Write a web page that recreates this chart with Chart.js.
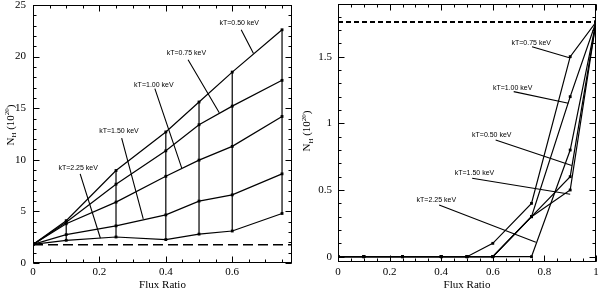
<!DOCTYPE html>
<html>
<head>
<meta charset="utf-8">
<script src="https://cdn.jsdelivr.net/npm/chart.js@4.4.0/dist/chart.umd.min.js"></script>
<style>
html, body { margin: 0; padding: 0; background: #fff; }
#wrap { position: relative; width: 600px; height: 290px; }
.pane { position: absolute; top: 0; width: 300px; height: 290px; }
</style>
</head>
<body>
<div id="wrap">
  <div class="pane" style="left:0"><canvas id="left" width="300" height="290"></canvas></div>
  <div class="pane" style="left:300px"><canvas id="right" width="300" height="290"></canvas></div>
</div>
<script>
"use strict";

const SERIF = '"Liberation Serif", "DejaVu Serif", serif';
const SANS = '"Liberation Sans", Arial, sans-serif';

// left panel: N_H against flux ratio, one list per temperature
const fluxLeft = [0, 0.1, 0.25, 0.4, 0.5, 0.6, 0.75];
const nhLeft050 = [1.8, 4.1, 8.96, 12.7, 15.6, 18.5, 22.6];
const nhLeft075 = [1.8, 3.95, 7.64, 10.87, 13.4, 15.2, 17.7];
const nhLeft100 = [1.8, 3.8, 5.9, 8.4, 9.97, 11.3, 14.2];
const nhLeft150 = [1.8, 2.75, 3.6, 4.66, 6.0, 6.6, 8.64];
const nhLeft225 = [1.8, 2.2, 2.52, 2.27, 2.8, 3.1, 4.8];
const galNHLeft = 1.76;

// right panel
const fluxRight = [0, 0.1, 0.25, 0.4, 0.5, 0.6, 0.75, 0.9, 1];
const nhRight050 = [0, 0, 0, 0, 0, 0, 0.3, 0.6, 1.76];
const nhRight075 = [0, 0, 0, 0, 0, 0.1, 0.4, 1.5, 1.76];
const nhRight100 = [0, 0, 0, 0, 0, 0, 0.3, 1.2, 1.76];
const nhRight150 = [0, 0, 0, 0, 0, 0, 0.3, 0.5, 1.76];
const nhRight225 = [0, 0, 0, 0, 0, 0, 0, 0.8, 1.76];
const galNHRight = 1.76;

// annotation labels (order: 0.50, 0.75, 1.00, 1.50, 2.25), positions in data units
const kTLabels = ["kT=0.50 keV", "kT=0.75 keV", "kT=1.00 keV", "kT=1.50 keV", "kT=2.25 keV"];
const labelPosLeft = [[0.621, 23.25], [0.462, 20.35], [0.364, 17.25], [0.259, 12.79], [0.136, 9.2]];
const pointerFromLeft = [[0.627, 22.6], [0.467, 19.7], [0.367, 16.9], [0.267, 12.1], [0.142, 8.64]];
const pointerToLeft = [[0.664, 20.3], [0.561, 14.56], [0.448, 9.2], [0.332, 4.27], [0.203, 2.4]];
const labelPosRight = [[0.596, 0.913], [0.749, 1.603], [0.677, 1.266], [0.529, 0.628], [0.381, 0.426]];
const pointerFromRight = [[0.611, 0.875], [0.752, 1.575], [0.681, 1.238], [0.52, 0.588], [0.392, 0.388]];
const pointerToRight = [[0.906, 0.683], [0.9, 1.49], [0.893, 1.15], [0.9, 0.468], [0.767, 0.108]];

// ticks
const xMajorLeft = [0, 0.2, 0.4, 0.6];
const yMajorLeft = [0, 5, 10, 15, 20, 25];
const xMajorRight = [0, 0.2, 0.4, 0.6, 0.8, 1];
const yMajorRight = [0, 0.5, 1, 1.5];

function series(xs, ys) {
    return {
        data: xs.map((x, i) => ({ x, y: ys[i] })),
        showLine: true, borderColor: "#000", borderWidth: 1.2,
        pointStyle: "rect", pointRadius: 2, pointBackgroundColor: "#000", pointBorderWidth: 0,
        tension: 0, fill: false
    };
}

function refLine(x0, x1, y, dash, w) {
    return { data: [{ x: x0, y }, { x: x1, y }], showLine: true, borderColor: "#000", borderWidth: w, borderDash: dash, pointRadius: 0 };
}

function minorTicks(min, max, step) {
    const out = [];
    for (let k = Math.ceil(min / step - 1e-9); k * step <= max + 1e-9; k++) out.push(k * step);
    return out;
}

function framePlugin(o) {
    return {
        id: "frame",
        afterDraw(chart) {
            const { ctx, chartArea: a, scales: { x, y } } = chart;
            const L = Math.round(a.left) + 0.5, R = Math.round(a.right) - 0.5;
            const T = Math.round(a.top) + 0.5, B = Math.round(a.bottom) - 0.5;
            ctx.save();
            ctx.strokeStyle = "#000"; ctx.lineWidth = 1;
            ctx.strokeRect(L, T, R - L, B - T);
            ctx.beginPath();
            const xt = (v, len) => { const p = Math.round(x.getPixelForValue(v)) + 0.5; ctx.moveTo(p, B); ctx.lineTo(p, B - len); ctx.moveTo(p, T); ctx.lineTo(p, T + len); };
            const yt = (v, len) => { const p = Math.round(y.getPixelForValue(v)) + 0.5; ctx.moveTo(L, p); ctx.lineTo(L + len, p); ctx.moveTo(R, p); ctx.lineTo(R - len, p); };
            minorTicks(x.min, x.max, o.xMinor).forEach(v => xt(v, 3));
            minorTicks(y.min, y.max, o.yMinor).forEach(v => yt(v, 3));
            o.xMajor.forEach(v => xt(v, 6));
            o.yMajor.forEach(v => yt(v, 6));
            ctx.stroke();

            // kT annotations with pointer lines
            ctx.font = "7px " + SANS; ctx.fillStyle = "#000";
            ctx.textAlign = "center"; ctx.textBaseline = "middle";
            ctx.lineWidth = 1.1;
            ctx.beginPath();
            kTLabels.forEach((t, i) => {
                ctx.fillText(t, x.getPixelForValue(o.labelPos[i][0]), y.getPixelForValue(o.labelPos[i][1]));
                ctx.moveTo(x.getPixelForValue(o.from[i][0]), y.getPixelForValue(o.from[i][1]));
                ctx.lineTo(x.getPixelForValue(o.to[i][0]), y.getPixelForValue(o.to[i][1]));
            });
            ctx.stroke();

            // x title
            ctx.font = "11px " + SERIF;
            ctx.fillText("Flux Ratio", (a.left + a.right) / 2, o.xTitleY);

            // y title N_H (10^20), rotated
            ctx.translate(o.yTitleX, (a.top + a.bottom) / 2 + o.yTitleShift);
            ctx.rotate(-Math.PI / 2);
            const big = "11px " + SERIF, small = "7px " + SERIF;
            const parts = [["N", big, 0], ["H", small, 2.5], [" (10", big, 0], ["20", small, -4.5], [")", big, 0]];
            let w = 0;
            parts.forEach(p => { ctx.font = p[1]; w += ctx.measureText(p[0]).width; });
            let cx = -w / 2;
            ctx.textAlign = "left"; ctx.textBaseline = "alphabetic";
            parts.forEach(p => { ctx.font = p[1]; ctx.fillText(p[0], cx, 4 + p[2]); cx += ctx.measureText(p[0]).width; });
            ctx.restore();
        }
    };
}

const fmt = v => String(Math.round(v * 100) / 100);

function makeChart(id, o) {
    return new Chart(document.getElementById(id), {
        type: "scatter",
        data: { datasets: o.datasets },
        options: {
            responsive: false, animation: false,
            layout: { padding: o.pad },
            plugins: { legend: { display: false }, tooltip: { enabled: false } },
            scales: {
                x: {
                    type: "linear", min: o.xr[0], max: o.xr[1],
                    grid: { display: false, drawTicks: false }, border: { display: false },
                    ticks: { color: "#000", font: { family: SERIF, size: 11 }, padding: o.xPad, maxRotation: 0, autoSkip: false, callback: fmt },
                    afterBuildTicks: s => { s.ticks = o.xMajor.map(v => ({ value: v })); },
                    afterFit: s => { s.height = o.xh; s.paddingLeft = 0; s.paddingRight = 0; }
                },
                y: {
                    type: "linear", min: o.yr[0], max: o.yr[1],
                    grid: { display: false, drawTicks: false }, border: { display: false },
                    ticks: { color: "#000", font: { family: SERIF, size: 11 }, padding: o.yPad, autoSkip: false, callback: fmt },
                    afterBuildTicks: s => { s.ticks = o.yMajor.map(v => ({ value: v })); },
                    afterFit: s => { s.width = o.yw; s.paddingTop = 0; s.paddingBottom = 0; }
                }
            }
        },
        plugins: [framePlugin(o)]
    });
}

// left chart
const leftAll = [nhLeft050, nhLeft075, nhLeft100, nhLeft150, nhLeft225];
const leftSets = leftAll.map(s => series(fluxLeft, s));
fluxLeft.forEach((fx, i) => {
    if (i === 0) return;
    const vals = leftAll.map(s => s[i]);
    leftSets.push({ data: [{ x: fx, y: Math.min(...vals) }, { x: fx, y: Math.max(...vals) }], showLine: true, borderColor: "#000", borderWidth: 1.2, pointRadius: 0 });
});
leftSets.push(refLine(0, 0.78, galNHLeft, [10, 5], 1.5));

makeChart("left", {
    datasets: leftSets,
    xr: [0, 0.78], yr: [0, 25],
    xMajor: xMajorLeft, yMajor: yMajorLeft, xMinor: 0.05, yMinor: 1,
    pad: { top: 5, right: 8, left: 0, bottom: 0 },
    xh: 27, yw: 33, xPad: 3, yPad: 7,
    labelPos: labelPosLeft, from: pointerFromLeft, to: pointerToLeft,
    xTitleY: 285, yTitleX: 9.5, yTitleShift: -9
});

// right chart
const rightAll = [nhRight050, nhRight075, nhRight100, nhRight150, nhRight225];
const rightSets = rightAll.map(s => series(fluxRight, s));
rightSets.push(refLine(0, 1, galNHRight, [5, 3], 2));

makeChart("right", {
    datasets: rightSets,
    xr: [0, 1], yr: [-0.04, 1.895],
    xMajor: xMajorRight, yMajor: yMajorRight, xMinor: 0.05, yMinor: 0.1,
    pad: { top: 4, right: 2, left: 0, bottom: 0 },
    xh: 28, yw: 38, xPad: 4, yPad: 6,
    labelPos: labelPosRight, from: pointerFromRight, to: pointerToRight,
    xTitleY: 285, yTitleX: 6, yTitleShift: -2
});
</script>
</body>
</html>
